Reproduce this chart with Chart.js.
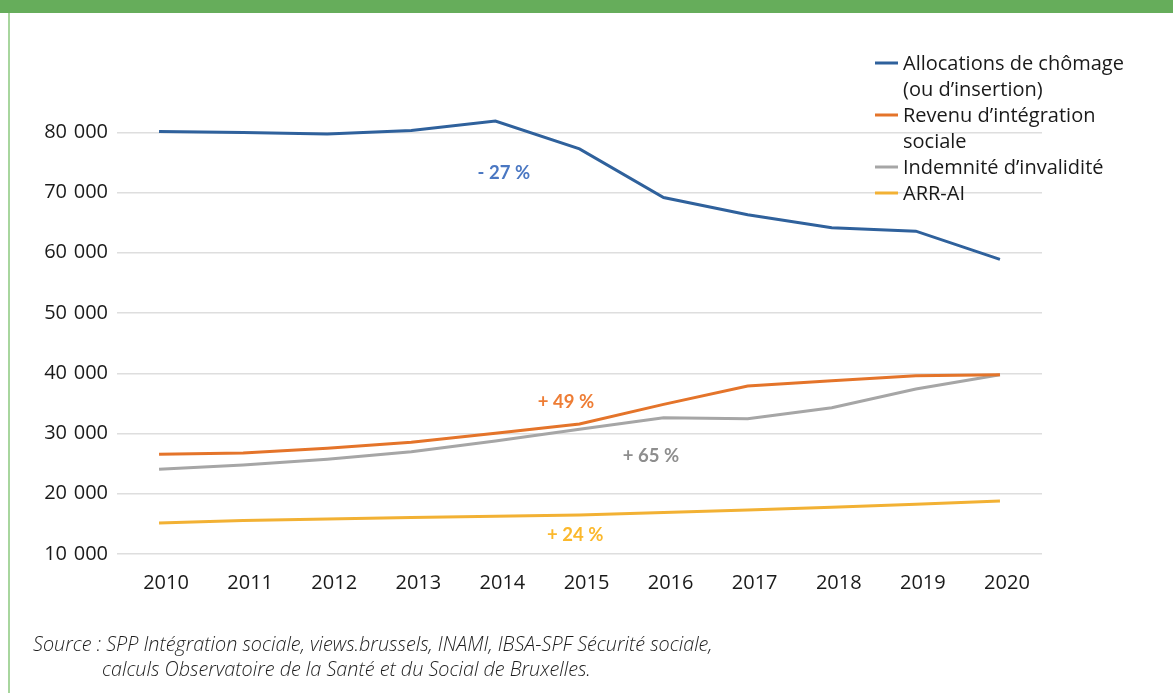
<!DOCTYPE html>
<html lang="fr">
<head>
<meta charset="utf-8">
<title>Bénéficiaires de revenus de remplacement, Bruxelles 2010-2020</title>
<script src="https://cdn.jsdelivr.net/npm/chart.js@4.4.1/dist/chart.umd.min.js"></script>
<style>
  html, body { margin: 0; padding: 0; background: #fff; }
  #page { position: relative; width: 1173px; height: 693px; overflow: hidden; }
  #topbar { position: absolute; left: 0; top: 0; width: 1173px; height: 13px; background: #66ad5b; }
  #leftline { position: absolute; left: 8px; top: 13px; width: 2px; height: 680px; background: #a8d69e; }
  #chartbox { position: absolute; left: 0; top: 0; width: 1173px; height: 693px; }
  #source {
    position: absolute; left: 33px; top: 631px;
    font-family: "Open Sans", sans-serif; font-style: italic; font-weight: 300;
    font-size: 19.8px; line-height: 25px; color: #1e1e1e;
  }
  #source span { display: block; padding-left: 69px; }
</style>
</head>
<body>
<div id="page">
  <div id="topbar"></div>
  <div id="leftline"></div>
  <div id="chartbox"><canvas id="myChart" width="1173" height="693"></canvas></div>
  <div id="source">Source : SPP Intégration sociale, views.brussels, INAMI, IBSA-SPF Sécurité sociale,<span>calculs Observatoire de la Santé et du Social de Bruxelles.</span></div>
</div>
<script>
var years = ['2010', '2011', '2012', '2013', '2014', '2015', '2016', '2017', '2018', '2019', '2020'];

var chomage   = [80120, 79950, 79720, 80280, 81870, 77230, 69170, 66300, 64140, 63580, 58890];
var revenu    = [26550, 26760, 27540, 28540, 30030, 31570, 34840, 37880, 38760, 39590, 39750];
var invalid   = [24080, 24770, 25720, 26980, 28750, 30690, 32620, 32450, 34280, 37380, 39750];
var arrai     = [15150, 15540, 15820, 16040, 16260, 16480, 16870, 17310, 17760, 18260, 18800];

var seriesNames = [
  ['Allocations de chômage', '(ou d\u2019insertion)'],
  ['Revenu d\u2019intégration', 'sociale'],
  ['Indemnité d\u2019invalidité'],
  ['ARR-AI']
];
var lineColors = ['#2f619c', '#e4742a', '#a6a6a6', '#f2b134'];

// variation 2010-2020 written next to each curve
var changeLabels = ['- 27 %', '+ 49 %', '+ 65 %', '+ 24 %'];
var changeColors = ['#4a77c2', '#ee7d35', '#8e8e8e', '#fbb82c'];
var changeSpots = [[4.10, 73200], [4.84, 35270], [5.85, 26320], [4.95, 13160]];

var FONT = '"Open Sans", sans-serif';
var BOLD = 'Lato, sans-serif';

var legendLines = {
  id: 'legendLines',
  afterDraw: function (chart) {
    var c = chart.ctx;
    var y = 63;
    c.save();
    c.font = '20px ' + FONT;
    c.textBaseline = 'middle';
    c.fillStyle = '#1a1a1a';
    chart.data.datasets.forEach(function (ds) {
      c.strokeStyle = ds.borderColor;
      c.lineWidth = 3;
      c.beginPath();
      c.moveTo(875, y);
      c.lineTo(898, y);
      c.stroke();
      ds.label.forEach(function (line) {
        c.fillText(line, 903, y + 1);
        y += 26;
      });
    });
    c.restore();
  }
};

var changeText = {
  id: 'changeText',
  afterDatasetsDraw: function (chart) {
    var c = chart.ctx;
    var xs = chart.scales.x, ys = chart.scales.y;
    c.save();
    c.font = 'bold 18.5px ' + BOLD;
    c.textAlign = 'center';
    c.textBaseline = 'middle';
    changeLabels.forEach(function (t, i) {
      c.fillStyle = changeColors[i];
      c.fillText(t, xs.getPixelForValue(changeSpots[i][0]), ys.getPixelForValue(changeSpots[i][1]));
    });
    c.restore();
  }
};

function makeSet(i, data) {
  return {
    label: seriesNames[i],
    data: data,
    borderColor: lineColors[i],
    backgroundColor: lineColors[i],
    borderWidth: 3,
    pointRadius: 0,
    tension: 0,
    fill: false
  };
}

var ctx = document.getElementById('myChart').getContext('2d');
var myChart = new Chart(ctx, {
  type: 'line',
  data: {
    labels: years,
    datasets: [makeSet(0, chomage), makeSet(1, revenu), makeSet(2, invalid), makeSet(3, arrai)]
  },
  options: {
    responsive: false,
    animation: false,
    layout: { padding: { left: 0, right: 131, top: 72, bottom: 89 } },
    plugins: {
      legend: { display: false },
      tooltip: { enabled: false }
    },
    scales: {
      x: {
        offset: true,
        grid: { display: false, drawTicks: false },
        border: { display: false },
        ticks: { color: '#1a1a1a', font: { family: FONT, size: 20 }, padding: 17, labelOffset: 7, maxRotation: 0 },
        afterFit: function (s) { s.height = 50; }
      },
      y: {
        min: 10000,
        max: 90000,
        grid: {
          drawTicks: false,
          lineWidth: 1.5,
          color: function (c) { return c.tick && c.tick.value > 80000 ? 'rgba(0,0,0,0)' : '#dedede'; }
        },
        border: { display: false },
        ticks: {
          stepSize: 10000,
          padding: 9,
          color: '#1a1a1a',
          font: { family: FONT, size: 20 },
          callback: function (v) {
            if (v > 80000) return '';
            return String(v).replace(/\B(?=(\d{3})+(?!\d))/g, '\u2004');
          }
        },
        afterFit: function (s) { s.width = 117; }
      }
    }
  },
  plugins: [legendLines, changeText]
});
</script>
</body>
</html>
